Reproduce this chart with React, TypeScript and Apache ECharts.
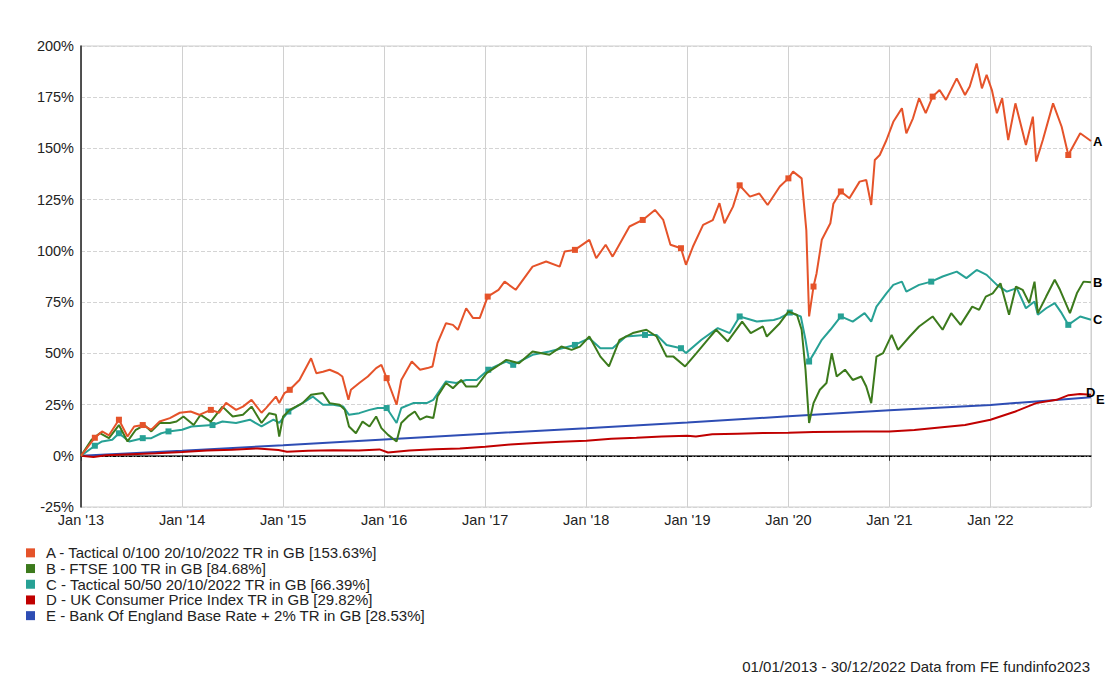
import React, { useEffect, useRef } from "react";
import * as echarts from "echarts";

type Pt = [string, number];

const seriesNames = [
  "A - Tactical 0/100 20/10/2022 TR in GB [153.63%]",
  "B - FTSE 100 TR in GB [84.68%]",
  "C - Tactical 50/50 20/10/2022 TR in GB [66.39%]",
  "D - UK Consumer Price Index TR in GB [29.82%]",
  "E - Bank Of England Base Rate + 2% TR in GB [28.53%]",
];
const endTags = ["A", "B", "C", "D", "E"];
const colors = ["#E5532A", "#3C7A1C", "#27A195", "#C00000", "#2E4DB4"];
const yTicks = { min: -25, max: 200, step: 25 };
const startDate = "2013-01-01";
const endDate = "2022-12-30";
const footerText = "01/01/2013 - 30/12/2022 Data from FE fundinfo2023";

const seriesA: Pt[] = [
  ["2013-01-01", 0], ["2013-02-20", 8.8], ["2013-03-18", 11.9], ["2013-04-12", 10], ["2013-05-18", 17.6],
  ["2013-06-18", 9.4], ["2013-07-12", 14.3], ["2013-08-12", 15], ["2013-09-12", 12.7], ["2013-10-12", 16.7],
  ["2013-11-18", 18.4], ["2013-12-24", 21], ["2014-02-01", 21.6], ["2014-03-04", 20], ["2014-04-15", 22.4],
  ["2014-05-15", 21], ["2014-06-09", 25.8], ["2014-07-15", 22.4], ["2014-08-09", 24], ["2014-09-09", 27.3],
  ["2014-10-15", 21], ["2014-11-01", 23.4], ["2014-12-06", 28.9], ["2014-12-18", 25.8], ["2015-01-06", 30.6],
  ["2015-01-25", 32.2], ["2015-03-01", 37], ["2015-04-12", 47.6], ["2015-05-01", 40.3], ["2015-05-25", 41],
  ["2015-06-18", 42], ["2015-07-18", 40.3], ["2015-08-03", 38.7], ["2015-08-25", 27.3], ["2015-09-03", 32.2],
  ["2015-10-03", 35.5], ["2015-11-03", 38.7], ["2015-12-03", 42.8], ["2015-12-22", 44.4], ["2016-01-10", 37.9],
  ["2016-02-15", 24.9], ["2016-03-03", 37], ["2016-04-10", 46], ["2016-05-10", 42], ["2016-06-06", 42.8],
  ["2016-06-24", 43.6], ["2016-07-12", 55], ["2016-08-12", 64.7], ["2016-09-06", 63.9], ["2016-09-24", 61.5],
  ["2016-10-24", 72], ["2016-11-18", 67.2], ["2016-12-12", 67.2], ["2017-01-10", 77.7], ["2017-02-18", 81],
  ["2017-03-12", 85], ["2017-04-21", 81], ["2017-06-21", 92.3], ["2017-08-09", 94.8], ["2017-09-27", 92.3],
  ["2017-10-15", 99.7], ["2017-11-21", 100.5], ["2018-01-12", 105.4], ["2018-02-06", 96.4], ["2018-03-12", 103],
  ["2018-04-06", 97.2], ["2018-06-06", 111.9], ["2018-07-24", 115.1], ["2018-09-06", 120], ["2018-10-06", 115.1],
  ["2018-11-01", 103], ["2018-12-09", 101.3], ["2018-12-27", 93.2], ["2019-01-21", 102], ["2019-02-27", 112.7],
  ["2019-04-03", 115], ["2019-04-27", 123.3], ["2019-05-15", 113.5], ["2019-06-15", 121.6], ["2019-07-09", 132],
  ["2019-08-15", 126.5], ["2019-09-18", 128], ["2019-10-18", 122.4], ["2019-12-01", 131.4], ["2020-01-01", 135.4],
  ["2020-01-18", 138.7], ["2020-02-18", 135.4], ["2020-03-06", 110], ["2020-03-16", 68], ["2020-04-01", 82.6],
  ["2020-04-12", 89], ["2020-05-01", 105.4], ["2020-06-01", 113.5], ["2020-06-12", 123], ["2020-07-09", 129],
  ["2020-08-09", 125.7], ["2020-09-15", 133.8], ["2020-10-09", 134.6], ["2020-10-27", 122.4], ["2020-11-09", 144.4],
  ["2020-11-27", 146.8], ["2020-12-21", 154], ["2021-01-15", 163], ["2021-02-15", 169.6], ["2021-03-03", 157.4],
  ["2021-03-27", 164.7], ["2021-04-18", 174.5], ["2021-05-12", 167.2], ["2021-06-06", 175.3], ["2021-07-01", 178.5],
  ["2021-07-24", 173.7], ["2021-09-01", 184.2], ["2021-10-01", 176.1], ["2021-10-18", 180.2], ["2021-11-12", 191.5],
  ["2021-12-01", 179.3], ["2021-12-18", 185.9], ["2022-01-06", 178.5], ["2022-01-24", 167.2], ["2022-02-12", 174.5],
  ["2022-03-06", 154.1], ["2022-04-01", 172], ["2022-05-09", 151.7], ["2022-06-03", 165.5], ["2022-06-15", 143.6],
  ["2022-07-09", 154.1], ["2022-08-15", 172], ["2022-09-15", 160.6], ["2022-10-09", 146.8], ["2022-11-21", 157.4],
  ["2022-12-30", 153.63],
];

const seriesB: Pt[] = [
  ["2013-01-01", 0], ["2013-02-08", 7.8], ["2013-03-10", 11], ["2013-04-12", 8.6], ["2013-05-18", 15],
  ["2013-06-18", 7], ["2013-07-18", 12.7], ["2013-08-18", 15], ["2013-09-12", 11.9], ["2013-10-12", 16],
  ["2013-11-18", 16], ["2013-12-12", 16.7], ["2014-01-06", 19.2], ["2014-02-12", 15], ["2014-03-09", 20],
  ["2014-04-15", 16.7], ["2014-05-27", 24], ["2014-07-03", 19.2], ["2014-08-09", 20], ["2014-09-09", 24],
  ["2014-10-15", 16], ["2014-11-12", 20.8], ["2014-12-06", 20], ["2014-12-18", 9.4], ["2015-01-01", 19.2],
  ["2015-01-25", 22.4], ["2015-03-12", 25.7], ["2015-04-12", 29.8], ["2015-05-25", 30.6], ["2015-06-18", 25.7],
  ["2015-07-24", 24.9], ["2015-08-12", 22.4], ["2015-08-27", 14.3], ["2015-09-21", 11], ["2015-10-15", 16.7],
  ["2015-11-09", 14.3], ["2015-12-03", 19.2], ["2015-12-22", 13.5], ["2016-01-15", 10.2], ["2016-02-15", 7],
  ["2016-03-03", 16], ["2016-03-27", 19.2], ["2016-04-21", 21.6], ["2016-05-10", 17.6], ["2016-06-03", 19.2],
  ["2016-06-27", 18.4], ["2016-07-12", 28.9], ["2016-08-12", 35.5], ["2016-09-06", 33], ["2016-10-06", 37],
  ["2016-10-24", 33.8], ["2016-12-01", 33.8], ["2017-01-06", 40.3], ["2017-02-12", 43.6], ["2017-03-18", 46.8],
  ["2017-05-03", 45.2], ["2017-06-21", 50.9], ["2017-08-21", 49.3], ["2017-10-03", 53.3], ["2017-11-09", 51.7],
  ["2017-12-09", 53.3], ["2018-01-12", 58.2], ["2018-02-21", 48.4], ["2018-03-24", 43.6], ["2018-05-01", 56.6],
  ["2018-06-18", 59.9], ["2018-08-06", 61.5], ["2018-09-12", 58.2], ["2018-10-18", 48.4], ["2018-11-12", 48.4],
  ["2018-12-24", 43.6], ["2019-02-03", 50.1], ["2019-03-15", 56.6], ["2019-04-15", 61.5], ["2019-05-27", 55.8],
  ["2019-07-18", 65.5], ["2019-08-18", 59.9], ["2019-10-01", 63.1], ["2019-10-15", 58.2], ["2019-12-01", 64.7],
  ["2020-01-01", 70.4], ["2020-02-01", 68.8], ["2020-02-18", 61.5], ["2020-03-03", 42], ["2020-03-16", 16],
  ["2020-04-01", 25.7], ["2020-04-24", 32.2], ["2020-05-18", 35.5], ["2020-06-06", 50.1], ["2020-06-24", 38.7],
  ["2020-07-24", 42], ["2020-08-21", 37], ["2020-09-21", 38.7], ["2020-10-09", 33.8], ["2020-10-27", 25.7],
  ["2020-11-15", 48.4], ["2020-12-09", 50.1], ["2021-01-09", 59], ["2021-02-01", 51.7], ["2021-03-15", 58.2],
  ["2021-04-18", 63.1], ["2021-06-06", 68], ["2021-07-12", 61.5], ["2021-08-12", 69.6], ["2021-09-15", 63.9],
  ["2021-10-27", 72.8], ["2021-11-21", 71.2], ["2021-12-15", 77.7], ["2022-01-09", 79.3], ["2022-02-06", 84.2],
  ["2022-03-09", 68.8], ["2022-04-03", 82.6], ["2022-04-27", 81], ["2022-05-21", 74.5], ["2022-06-09", 85],
  ["2022-06-21", 69.6], ["2022-07-21", 77.7], ["2022-08-21", 85.9], ["2022-09-09", 81], ["2022-10-15", 69.6],
  ["2022-11-09", 79.3], ["2022-12-03", 85], ["2022-12-30", 84.68],
];

const seriesC: Pt[] = [
  ["2013-01-01", 0], ["2013-02-20", 4.9], ["2013-03-18", 7], ["2013-04-24", 7.8], ["2013-05-18", 11],
  ["2013-06-24", 7], ["2013-08-12", 8.6], ["2013-09-12", 8.6], ["2013-10-18", 11], ["2013-11-13", 11.9],
  ["2014-01-01", 12.7], ["2014-02-04", 14.3], ["2014-04-21", 15], ["2014-05-27", 16.7], ["2014-07-15", 16],
  ["2014-09-03", 17.6], ["2014-10-15", 14.3], ["2014-11-27", 17.6], ["2014-12-18", 16], ["2015-01-20", 21.6],
  ["2015-03-12", 25.7], ["2015-04-18", 28.9], ["2015-05-25", 24.9], ["2015-07-01", 24.9], ["2015-08-06", 24],
  ["2015-08-27", 20], ["2015-10-03", 20.8], ["2015-11-09", 22.4], ["2015-12-09", 23.3], ["2016-01-10", 23.3],
  ["2016-02-15", 16], ["2016-03-03", 23.3], ["2016-04-15", 25.7], ["2016-06-03", 25.7], ["2016-06-27", 27.3],
  ["2016-08-12", 36.3], ["2016-09-18", 35.5], ["2016-10-24", 37], ["2016-12-01", 37], ["2017-01-12", 42],
  ["2017-02-18", 44.4], ["2017-03-18", 46], ["2017-04-12", 44.4], ["2017-06-21", 49.3], ["2017-08-21", 50.9],
  ["2017-11-21", 54.1], ["2018-01-12", 57.4], ["2018-02-21", 52.5], ["2018-04-06", 52.5], ["2018-05-24", 58.2],
  ["2018-08-01", 59], ["2018-09-12", 59], ["2018-10-18", 54.1], ["2018-12-09", 52.5], ["2018-12-27", 50.1],
  ["2019-02-21", 56.6], ["2019-04-21", 62.3], ["2019-06-03", 59.9], ["2019-07-09", 68], ["2019-09-09", 65.5],
  ["2019-11-09", 66.3], ["2019-12-01", 67.2], ["2020-01-06", 69.9], ["2020-02-15", 68], ["2020-03-03", 56.6],
  ["2020-03-16", 46], ["2020-04-03", 50.1], ["2020-05-01", 56.6], ["2020-06-01", 61.5], ["2020-07-09", 68],
  ["2020-08-21", 65.5], ["2020-10-03", 69.6], ["2020-10-27", 65.5], ["2020-11-15", 72.8], ["2020-12-21", 79.3],
  ["2021-01-15", 83.4], ["2021-02-15", 85], ["2021-03-03", 80.1], ["2021-04-18", 83.4], ["2021-06-01", 85],
  ["2021-07-12", 87.5], ["2021-09-01", 89.9], ["2021-10-06", 86.7], ["2021-11-12", 90.7], ["2021-12-18", 88.3],
  ["2022-01-24", 83.4], ["2022-03-01", 80.1], ["2022-04-06", 81.8], ["2022-05-09", 72], ["2022-06-09", 75.3],
  ["2022-06-21", 68.8], ["2022-07-21", 72], ["2022-08-21", 74.5], ["2022-09-15", 69.6], ["2022-10-09", 63.9],
  ["2022-11-21", 68], ["2022-12-30", 66.39],
];

const seriesD: Pt[] = [
  ["2013-01-01", 0], ["2013-02-15", -0.6], ["2013-04-01", 0.3], ["2013-07-01", 0.8], ["2013-10-01", 1.2],
  ["2014-01-01", 1.8], ["2014-04-01", 2.6], ["2014-07-01", 3.0], ["2014-10-01", 3.6], ["2014-12-15", 2.8],
  ["2015-01-15", 2.0], ["2015-04-01", 2.4], ["2015-07-01", 2.7], ["2015-10-01", 2.6], ["2015-12-15", 3.1],
  ["2016-01-15", 1.6], ["2016-04-01", 2.6], ["2016-07-01", 3.2], ["2016-10-01", 3.6], ["2017-01-01", 4.4],
  ["2017-04-01", 5.5], ["2017-07-01", 6.2], ["2017-10-01", 6.8], ["2018-01-01", 7.3], ["2018-04-01", 8.3],
  ["2018-07-01", 8.8], ["2018-10-01", 9.4], ["2019-01-01", 9.8], ["2019-02-01", 9.4], ["2019-04-01", 10.5],
  ["2019-07-01", 10.8], ["2019-10-01", 11.1], ["2020-01-01", 11.2], ["2020-04-01", 11.6], ["2020-07-01", 11.7],
  ["2020-10-01", 11.8], ["2021-01-01", 11.8], ["2021-04-01", 12.6], ["2021-07-01", 13.8], ["2021-10-01", 15.0],
  ["2022-01-01", 17.6], ["2022-04-01", 21.6], ["2022-06-15", 25.7], ["2022-08-28", 27.3], ["2022-10-10", 29.6],
  ["2022-11-20", 30.1], ["2022-12-30", 29.82],
];

const seriesE: Pt[] = [
  ["2013-01-01", 0], ["2014-01-01", 2.5], ["2015-01-01", 5.1], ["2016-01-01", 8.0], ["2017-01-01", 10.8],
  ["2018-01-01", 13.4], ["2019-01-01", 16.2], ["2020-01-01", 19.3], ["2021-01-01", 22.2], ["2022-01-01", 24.8],
  ["2022-06-15", 26.5], ["2022-12-30", 28.53],
];

const markersA = [
  "2013-02-20", "2013-05-18", "2013-08-12", "2014-04-15", "2015-01-25", "2016-01-10", "2017-01-10",
  "2017-11-21", "2018-07-24", "2018-12-09", "2019-07-09", "2020-01-01", "2020-04-01", "2020-07-09",
  "2021-06-06", "2022-10-09",
];
const markersC = [
  "2013-02-20", "2013-05-18", "2013-08-12", "2013-11-13", "2014-04-21", "2015-01-20", "2016-01-10",
  "2017-01-12", "2017-04-12", "2017-11-21", "2018-08-01", "2018-12-09", "2019-07-09", "2020-01-06",
  "2020-03-16", "2020-07-09", "2021-06-01", "2022-10-09",
];

const FONT = "'Liberation Sans', Arial, Helvetica, sans-serif";

function toYear(d: string): number {
  const [y, m, dd] = d.split("-").map(Number);
  const t = Date.UTC(y, m - 1, dd);
  const s = Date.UTC(y, 0, 1);
  const e = Date.UTC(y + 1, 0, 1);
  return y + (t - s) / (e - s);
}

function build(pts: Pt[], marks: string[]) {
  return pts.map(([d, v]) =>
    marks.includes(d)
      ? { value: [toYear(d), v], symbol: "rect", symbolSize: 6 }
      : { value: [toYear(d), v] }
  );
}

const endOffsets: [number, number][] = [[0, 0], [0, 0], [0, 0], [-7, -2], [3, 2]];

export default function App() {
  const ref = useRef<HTMLDivElement>(null);

  useEffect(() => {
    if (!ref.current) return;
    const chart = echarts.init(ref.current, undefined, { renderer: "svg" });
    const all: { pts: Pt[]; marks: string[] }[] = [
      { pts: seriesA, marks: markersA },
      { pts: seriesB, marks: [] },
      { pts: seriesC, marks: markersC },
      { pts: seriesD, marks: [] },
      { pts: seriesE, marks: [] },
    ];
    const drawOrder = [4, 3, 2, 1, 0];
    const series: any[] = drawOrder.map((i) => ({
      name: seriesNames[i],
      type: "line",
      data: build(all[i].pts, all[i].marks),
      symbol: "none",
      showSymbol: true,
      color: colors[i],
      itemStyle: { color: colors[i] },
      lineStyle: { color: colors[i], width: 2 },
      z: 3 + (4 - i),
      emphasis: { disabled: true },
      endLabel: {
        show: true,
        formatter: endTags[i],
        color: "#000",
        fontWeight: "bold",
        fontSize: 13,
        fontFamily: FONT,
        distance: 2,
        offset: endOffsets[i],
      },
      ...(i === 4
        ? {
            markLine: {
              silent: true,
              symbol: ["none", "none"],
              label: { show: false },
              lineStyle: { color: "#000", type: [3, 2, 1, 2], width: 1 },
              data: [{ yAxis: 0 }],
              z: 2,
            },
          }
        : {}),
    }));

    chart.setOption({
      animation: false,
      textStyle: { fontFamily: FONT },
      grid: {
        left: 81,
        right: 24,
        top: 46,
        bottom: 186,
        show: true,
        borderColor: "#cccccc",
        borderWidth: 1,
        containLabel: false,
      },
      legend: {
        data: seriesNames,
        orient: "vertical",
        left: 21,
        top: 540,
        icon: "rect",
        itemWidth: 9,
        itemHeight: 9,
        itemGap: 0,
        selectedMode: false,
        textStyle: {
          fontSize: 15,
          color: "#222",
          fontFamily: FONT,
          lineHeight: 15.7,
          padding: [0, 0, 0, 6],
        },
      },
      xAxis: {
        type: "value",
        min: toYear(startDate),
        max: toYear(endDate),
        interval: 1,
        axisLine: { show: true, lineStyle: { color: "#333", width: 1.5 } },
        axisTick: { show: true, length: 5, lineStyle: { color: "#333" } },
        axisLabel: {
          showMaxLabel: false,
          color: "#222",
          fontSize: 14.5,
          margin: 5,
          fontFamily: FONT,
          formatter: (v: number) => "Jan '" + String(Math.round(v)).slice(2),
        },
        splitLine: { show: true, lineStyle: { color: "#d0d0d0", width: 1 } },
      },
      yAxis: {
        type: "value",
        min: yTicks.min,
        max: yTicks.max,
        interval: yTicks.step,
        axisLine: { show: true, lineStyle: { color: "#222", width: 1.5 } },
        axisTick: { show: false },
        axisLabel: {
          color: "#222",
          fontSize: 14.5,
          margin: 7,
          fontFamily: FONT,
          formatter: "{value}%",
        },
        splitLine: { show: true, lineStyle: { color: "#d4d4d4", type: [4, 2], width: 1 } },
      },
      graphic: [
        {
          type: "text",
          right: 25,
          top: 659,
          style: {
            text: footerText,
            fill: "#222",
            font: "15px " + FONT,
          },
        },
      ],
      series,
    });
    return () => chart.dispose();
  }, []);

  return (
    <div
      ref={ref}
      style={{ position: "absolute", left: 0, top: 0, width: 1115, height: 693, background: "#fff" }}
    />
  );
}
